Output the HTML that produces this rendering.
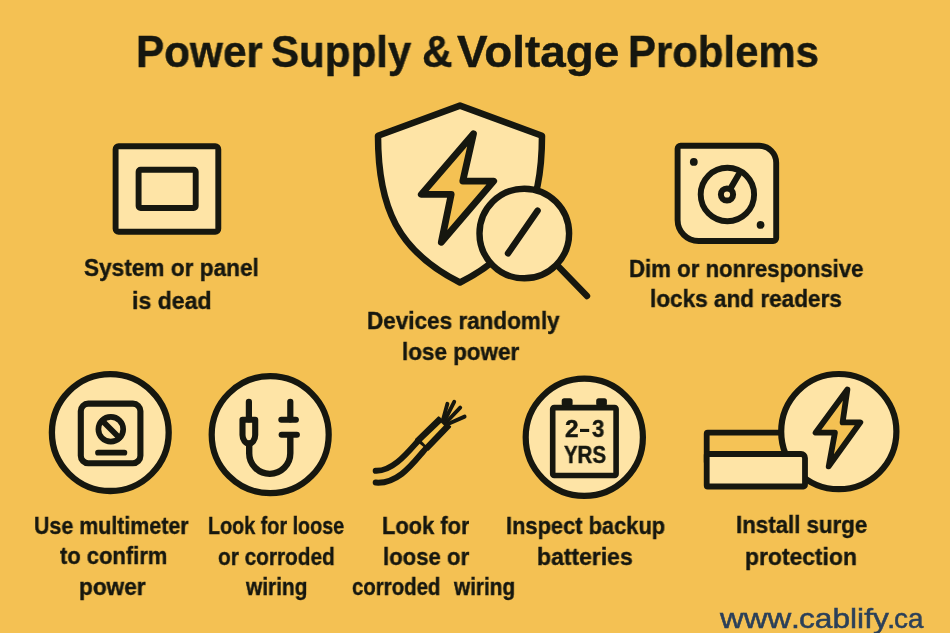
<!DOCTYPE html>
<html><head><meta charset="utf-8"><title>Power Supply &amp; Voltage Problems</title>
<style>
html,body{margin:0;padding:0}
body{width:950px;height:633px;overflow:hidden;background:#f4c153;position:relative;font-family:"Liberation Sans",sans-serif}
svg{position:absolute;left:0;top:0}
.t{position:absolute;white-space:nowrap;line-height:1;transform-origin:0 0;margin:0;will-change:transform}
</style></head><body>
<svg width="950" height="633" viewBox="0 0 950 633" fill="none" stroke="#16170f" stroke-linecap="round" stroke-linejoin="round">
<!-- panel -->
<rect x="115.6" y="146.2" width="102.7" height="85.5" rx="3" fill="#fee4a6" stroke-width="5.9"/>
<rect x="138.6" y="169.7" width="57.1" height="38.3" rx="2" fill="#fee4a6" stroke-width="5.9"/>
<!-- shield -->
<path d="M460,105.6 L542,135.8 C542,207.7 522,251.3 460,282.5 C398,251.3 378,207.7 378,135.8 Z" fill="#fee4a6" stroke-width="6.5"/>
<path d="M473.5,133.7 L421.3,194.4 L451.2,194.4 L441.3,242.3 L493.7,181.1 L462.8,181.1 Z" fill="#f4c153" stroke-width="6.8"/>
<line x1="556" y1="264" x2="587" y2="296" stroke-width="6.4"/>
<circle cx="524.3" cy="233.5" r="44.8" fill="#fee4a6" stroke-width="6.4"/>
<line x1="537.6" y1="210.6" x2="508" y2="253.4" stroke-width="6.4"/>
<!-- lock -->
<path d="M680.6,145.8 H759.2 A17,17 0 0 1 776.2,162.8 V238 A3,3 0 0 1 773.2,241 H698.6 A21,21 0 0 1 677.6,220 V148.8 A3,3 0 0 1 680.6,145.8 Z" fill="#fee4a6" stroke-width="5.9"/>
<circle cx="727.4" cy="194.5" r="26.7" stroke-width="5.9"/>
<line x1="727" y1="194.5" x2="740" y2="172.3" stroke-width="6.2"/>
<circle cx="727" cy="194.5" r="6.1" fill="#fee4a6" stroke-width="6"/>
<circle cx="693.8" cy="161.9" r="3.9" fill="#16170f" stroke="none"/>
<circle cx="760.6" cy="224.9" r="3.9" fill="#16170f" stroke="none"/>
<!-- multimeter -->
<circle cx="110.3" cy="432.6" r="58.4" fill="#fee4a6" stroke-width="6.3"/>
<rect x="80.8" y="403.6" width="59.6" height="59.6" rx="7.5" stroke-width="6.1"/>
<circle cx="110.8" cy="429.3" r="12.4" stroke-width="5.7"/>
<line x1="102.3" y1="420.8" x2="119.3" y2="437.8" stroke-width="5.7"/>
<line x1="98" y1="452.7" x2="124.4" y2="452.7" stroke-width="5.7"/>
<!-- plug -->
<circle cx="270.2" cy="434.7" r="58.5" fill="#fee4a6" stroke-width="6.2"/>
<line x1="248.9" y1="401.8" x2="248.9" y2="419.3" stroke-width="6.2"/>
<path d="M242.5,419.8 H255.2 V435 C255.2,440 252.2,443.6 248.9,443.6 C245.6,443.6 242.5,440 242.5,435 Z" stroke-width="6.1"/>
<path d="M249.2,443.5 V453.3 A20.55,20.55 0 0 0 290.3,453.3 V435.1" stroke-width="6.4"/>
<line x1="290.3" y1="401.8" x2="290.3" y2="419.3" stroke-width="6.2"/>
<line x1="281.3" y1="419.8" x2="295.9" y2="419.8" stroke-width="6"/>
<line x1="281.6" y1="434.8" x2="296.9" y2="434.8" stroke-width="6"/>
<!-- wire -->
<path d="M375.7,470.8 C393,471.5 408.5,451.5 418,441" stroke-width="6"/>
<path d="M375.7,482.6 C400,484.5 416,459 426.3,448" stroke-width="6"/>
<line x1="443.2" y1="419" x2="447.4" y2="403.8" stroke-width="3.9"/>
<line x1="445" y1="419.8" x2="454.2" y2="401.8" stroke-width="3.9"/>
<line x1="447" y1="421.5" x2="460.2" y2="407.6" stroke-width="3.9"/>
<line x1="448.5" y1="423.8" x2="464.6" y2="416.6" stroke-width="3.9"/>
<path d="M438.5,417.4 L450.2,426.7 L428.3,449.6 L416,439.5 Z" fill="#16170f" stroke-width="2"/>
<path d="M441.2,422.8 L444,425.4 L425.4,444.9 L421.8,441.3 Z" fill="#f6c54c" stroke="none"/>
<!-- battery -->
<circle cx="584.3" cy="437.3" r="58.6" fill="#fee4a6" stroke-width="6.2"/>
<rect x="552.7" y="407.6" width="63.4" height="67.9" rx="1.5" stroke-width="5.6"/>
<rect x="561.7" y="398.3" width="10.9" height="8" rx="2.5" fill="#16170f" stroke="none"/>
<rect x="596.2" y="398.3" width="10.7" height="8" rx="2.5" fill="#16170f" stroke="none"/>
<rect x="580" y="428.9" width="9.2" height="3.1" fill="#16170f" stroke="none"/>
<!-- surge -->
<rect x="706.7" y="432.7" width="85" height="30" rx="1" fill="#f5c356" stroke-width="5.8"/>
<circle cx="838.8" cy="431.6" r="57.6" fill="#fee4a6" stroke-width="6.2"/>
<path d="M707.7,454 H801 A4,4 0 0 1 805,458 V485 A1.5,1.5 0 0 1 803.5,486.5 H707.7 A1,1 0 0 1 706.7,485.5 V455 A1,1 0 0 1 707.7,454 Z" fill="#fee4a6" stroke-width="5.8"/>
<path d="M847.4,389.5 L815.6,432.7 L834.9,432.7 L828.7,466.4 L860.3,422.4 L842.6,422.4 Z" fill="#f4c153" stroke-width="5.8"/>
</svg>

<div class="t" style="left:136.13px;top:31.28px;font-size:43.5px;font-weight:700;color:#16170f;-webkit-text-stroke:0.4px #16170f;transform:scaleX(0.9721)">Power</div>
<div class="t" style="left:271.43px;top:31.28px;font-size:43.5px;font-weight:700;color:#16170f;-webkit-text-stroke:0.4px #16170f;transform:scaleX(0.9681)">Supply</div>
<div class="t" style="left:422.40px;top:31.28px;font-size:43.5px;font-weight:700;color:#16170f;-webkit-text-stroke:0.4px #16170f;transform:scaleX(0.9719)">&amp;</div>
<div class="t" style="left:457.40px;top:31.28px;font-size:43.5px;font-weight:700;color:#16170f;-webkit-text-stroke:0.4px #16170f;transform:scaleX(1.0551)">Voltage</div>
<div class="t" style="left:628.45px;top:31.28px;font-size:43.5px;font-weight:700;color:#16170f;-webkit-text-stroke:0.4px #16170f;transform:scaleX(0.9634)">Problems</div>
<div class="t" style="left:83.93px;top:256.18px;font-size:24px;font-weight:700;color:#16170f;-webkit-text-stroke:0.4px #16170f;transform:scaleX(0.9428)">System or panel</div>
<div class="t" style="left:132.26px;top:288.88px;font-size:24px;font-weight:700;color:#16170f;-webkit-text-stroke:0.4px #16170f;transform:scaleX(0.9618)">is dead</div>
<div class="t" style="left:367.49px;top:308.78px;font-size:24px;font-weight:700;color:#16170f;-webkit-text-stroke:0.4px #16170f;transform:scaleX(0.9377)">Devices randomly</div>
<div class="t" style="left:402.40px;top:340.18px;font-size:24px;font-weight:700;color:#16170f;-webkit-text-stroke:0.4px #16170f;transform:scaleX(0.9349)">lose power</div>
<div class="t" style="left:628.51px;top:257.48px;font-size:24px;font-weight:700;color:#16170f;-webkit-text-stroke:0.4px #16170f;transform:scaleX(0.9254)">Dim or nonresponsive</div>
<div class="t" style="left:649.79px;top:287.38px;font-size:24px;font-weight:700;color:#16170f;-webkit-text-stroke:0.4px #16170f;transform:scaleX(0.9398)">locks and readers</div>
<div class="t" style="left:34.29px;top:513.78px;font-size:24px;font-weight:700;color:#16170f;-webkit-text-stroke:0.4px #16170f;transform:scaleX(0.8919)">Use multimeter</div>
<div class="t" style="left:59.90px;top:544.08px;font-size:24px;font-weight:700;color:#16170f;-webkit-text-stroke:0.4px #16170f;transform:scaleX(0.9147)">to confirm</div>
<div class="t" style="left:79.19px;top:574.88px;font-size:24px;font-weight:700;color:#16170f;-webkit-text-stroke:0.4px #16170f;transform:scaleX(0.9420)">power</div>
<div class="t" style="left:208.37px;top:514.28px;font-size:24px;font-weight:700;color:#16170f;-webkit-text-stroke:0.4px #16170f;transform:scaleX(0.8233)">Look for loose</div>
<div class="t" style="left:218.35px;top:544.58px;font-size:24px;font-weight:700;color:#16170f;-webkit-text-stroke:0.4px #16170f;transform:scaleX(0.8672)">or corroded</div>
<div class="t" style="left:246.42px;top:574.88px;font-size:24px;font-weight:700;color:#16170f;-webkit-text-stroke:0.4px #16170f;transform:scaleX(0.8691)">wiring</div>
<div class="t" style="left:381.63px;top:514.28px;font-size:24px;font-weight:700;color:#16170f;-webkit-text-stroke:0.4px #16170f;transform:scaleX(0.9114)">Look for</div>
<div class="t" style="left:382.82px;top:544.58px;font-size:24px;font-weight:700;color:#16170f;-webkit-text-stroke:0.4px #16170f;transform:scaleX(0.9232)">loose or</div>
<div class="t" style="left:352.46px;top:574.88px;font-size:24px;font-weight:700;color:#16170f;-webkit-text-stroke:0.4px #16170f;transform:scaleX(0.8500)">corroded</div>
<div class="t" style="left:454.42px;top:574.88px;font-size:24px;font-weight:700;color:#16170f;-webkit-text-stroke:0.4px #16170f;transform:scaleX(0.8647)">wiring</div>
<div class="t" style="left:506.33px;top:514.28px;font-size:24px;font-weight:700;color:#16170f;-webkit-text-stroke:0.4px #16170f;transform:scaleX(0.9107)">Inspect backup</div>
<div class="t" style="left:536.57px;top:544.58px;font-size:24px;font-weight:700;color:#16170f;-webkit-text-stroke:0.4px #16170f;transform:scaleX(0.9565)">batteries</div>
<div class="t" style="left:736.01px;top:513.18px;font-size:24px;font-weight:700;color:#16170f;-webkit-text-stroke:0.4px #16170f;transform:scaleX(0.9285)">Install surge</div>
<div class="t" style="left:745.27px;top:544.58px;font-size:24px;font-weight:700;color:#16170f;-webkit-text-stroke:0.4px #16170f;transform:scaleX(0.9537)">protection</div>
<div class="t" style="left:720.49px;top:605.30px;font-size:28px;font-weight:400;color:#2b405a;-webkit-text-stroke:0.5px #2b405a;transform:scaleX(1.1722)">www</div>
<div class="t" style="left:790.74px;top:605.30px;font-size:28px;font-weight:400;color:#2b405a;-webkit-text-stroke:0.5px #2b405a;transform:scaleX(1.1385)">.</div>
<div class="t" style="left:798.77px;top:605.30px;font-size:28px;font-weight:400;color:#2b405a;-webkit-text-stroke:0.5px #2b405a;transform:scaleX(1.1314)">cablify</div>
<div class="t" style="left:886.98px;top:605.30px;font-size:28px;font-weight:400;color:#2b405a;-webkit-text-stroke:0.5px #2b405a;transform:scaleX(1.0769)">.</div>
<div class="t" style="left:893.91px;top:605.30px;font-size:28px;font-weight:400;color:#2b405a;-webkit-text-stroke:0.5px #2b405a;transform:scaleX(0.9948)">ca</div>
<div class="t" style="left:564.67px;top:418.23px;font-size:23px;font-weight:700;color:#16170f;-webkit-text-stroke:0.4px #16170f;transform:scaleX(1.0609)">2</div>
<div class="t" style="left:592.06px;top:418.23px;font-size:23px;font-weight:700;color:#16170f;-webkit-text-stroke:0.4px #16170f;transform:scaleX(0.9667)">3</div>
<div class="t" style="left:563.68px;top:443.93px;font-size:23px;font-weight:700;color:#16170f;-webkit-text-stroke:0.4px #16170f;transform:scaleX(0.8886)">YRS</div>
</body></html>
